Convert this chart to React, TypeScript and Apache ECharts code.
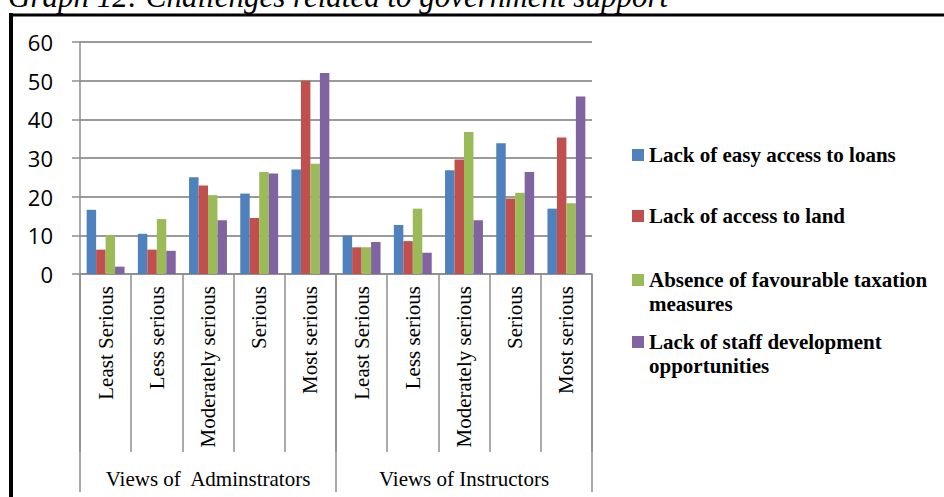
import React, { useEffect, useRef } from "react";
import * as echarts from "echarts";

const categories = [
  "Least Serious", "Less serious", "Moderately serious", "Serious", "Most serious",
  "Least Serious", "Less serious", "Moderately serious", "Serious", "Most serious",
];
const groups = ["Views of  Adminstrators", "Views of Instructors"];
const seriesNames = [
  "Lack of easy access to loans",
  "Lack of access to land",
  "Absence of favourable taxation measures",
  "Lack of staff development opportunities",
];
// legend labels as wrapped in the reference: first line beside the swatch, rest below
const legendFirstLines = [
  "Lack of easy access to loans",
  "Lack of access to land",
  "Absence of favourable taxation",
  "Lack of staff development",
];
const legendSecondLines = ["", "", "measures", "opportunities"];
const loans = [16.6, 10.4, 25.0, 20.8, 27.0, 9.9, 12.7, 26.8, 33.8, 16.9];
const land = [6.3, 6.3, 22.9, 14.5, 50.0, 6.9, 8.5, 29.6, 19.5, 35.3];
const taxation = [10.0, 14.2, 20.4, 26.4, 28.5, 6.9, 16.9, 36.7, 21.0, 18.3];
const staff = [1.9, 6.0, 13.9, 26.0, 52.0, 8.3, 5.5, 13.9, 26.4, 45.9];
const yTicks = { min: 0, max: 60, interval: 10 };
const title = "Graph 12: Challenges related to government support";

const colors = ["#4F81BD", "#C0504D", "#9BBB59", "#8064A2"];

export default function App() {
  const ref = useRef<HTMLDivElement>(null);
  useEffect(() => {
    document.body.style.margin = "0";
    const chart = echarts.init(ref.current!, null, { renderer: "svg" });
    const values = [loans, land, taxation, staff];
    const grey = "#8e8e8e";
    const legendCenters = [155, 216, 280, 342];
    const legendFont = "bold 21px 'Liberation Serif'";
    const secondLineTexts = legendSecondLines
      .map((t, i) => ({ t, i }))
      .filter((o) => o.t)
      .map((o) => ({
        type: "text",
        x: 649,
        y: legendCenters[o.i] + 24,
        style: { text: o.t, font: legendFont, fill: "#000", verticalAlign: "middle" },
      }));
    chart.setOption({
      animation: false,
      backgroundColor: "#ffffff",
      color: colors,
      grid: { left: 80, right: 352, top: 42, bottom: 223, containLabel: false },
      legend: seriesNames.map((n, i) => ({
        data: [n],
        orient: "vertical",
        left: 632,
        top: legendCenters[i] - 12,
        padding: 0,
        icon: "rect",
        itemWidth: 12,
        itemHeight: 12,
        selectedMode: false,
        formatter: () => legendFirstLines[i],
        textStyle: {
          fontFamily: "Liberation Serif",
          fontWeight: "bold",
          fontSize: 21,
          lineHeight: 24,
          color: "#000",
        },
      })),
      xAxis: [
        {
          type: "category",
          data: categories,
          position: "bottom",
          axisLine: { show: true, lineStyle: { color: grey, width: 1.5 } },
          axisTick: { show: true, interval: 0, length: 178, lineStyle: { color: grey, width: 1.5 } },
          axisLabel: {
            interval: 0,
            rotate: 90,
            margin: 12,
            fontFamily: "Liberation Serif",
            fontSize: 21,
            color: "#000",
          },
        },
        {
          type: "category",
          data: groups,
          position: "bottom",
          axisLine: { show: false },
          axisTick: { show: true, interval: 0, length: 218, lineStyle: { color: grey, width: 1.5 } },
          axisLabel: {
            interval: 0,
            margin: 194,
            fontFamily: "Liberation Serif",
            fontSize: 21,
            color: "#000",
          },
          splitLine: { show: false },
        },
      ],
      yAxis: {
        type: "value",
        min: yTicks.min,
        max: yTicks.max,
        interval: yTicks.interval,
        axisLine: { show: true, lineStyle: { color: grey, width: 1.5 } },
        axisTick: { show: true, length: 8, lineStyle: { color: grey, width: 1.5 } },
        splitLine: { show: true, lineStyle: { color: "#9a9a9a", width: 2 } },
        axisLabel: { fontFamily: "Open Sans", fontSize: 22, color: "#000", margin: 27 },
      },
      series: values.map((v, i) => ({
        type: "bar",
        name: seriesNames[i],
        data: v,
        xAxisIndex: 0,
        barGap: "0%",
        barCategoryGap: "26%",
      })),
      graphic: [
        {
          type: "text",
          x: 8,
          y: -3.5,
          style: {
            text: title,
            font: "italic 31px 'Liberation Serif'",
            fill: "#000",
            verticalAlign: "middle",
          },
        },
        { type: "rect", shape: { x: 9, y: 13, width: 4, height: 490 }, style: { fill: "#000" } },
        { type: "rect", shape: { x: 9, y: 13.5, width: 940, height: 3 }, style: { fill: "#000" } },
        ...secondLineTexts,
      ],
    });
    return () => chart.dispose();
  }, []);
  return <div ref={ref} style={{ width: 944, height: 497 }} />;
}
